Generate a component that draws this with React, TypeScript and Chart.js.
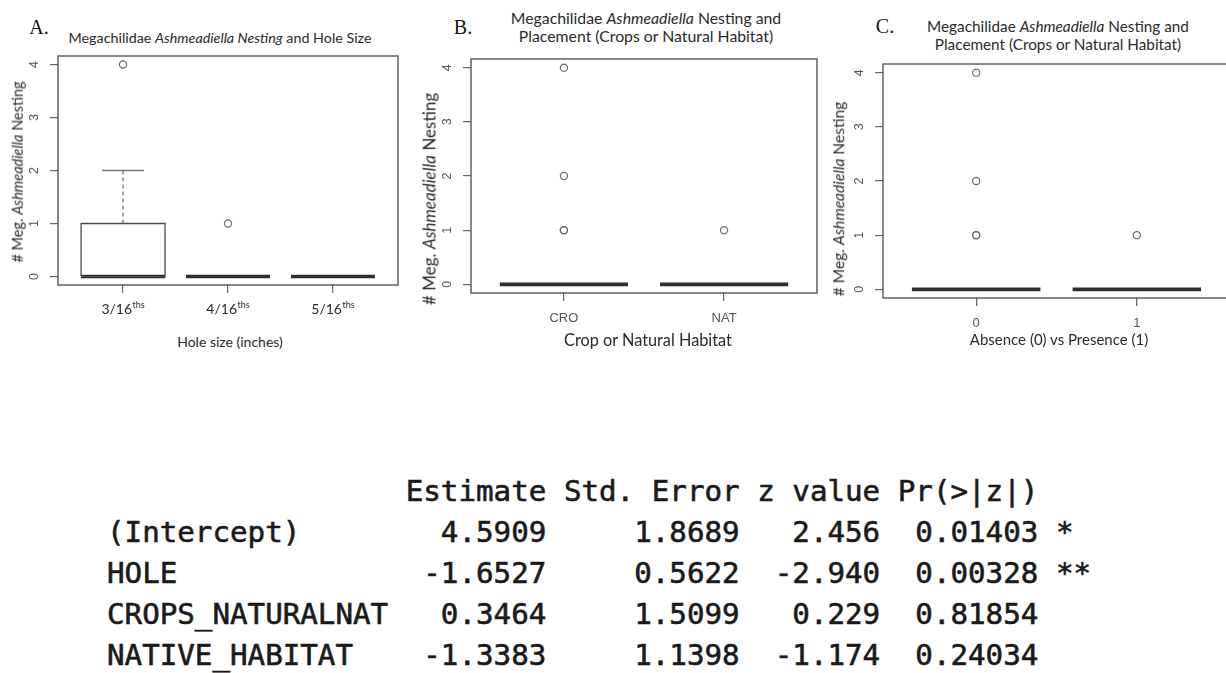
import React, { useEffect, useRef } from 'react';
import { Chart, registerables } from 'chart.js';

Chart.register(...registerables);

// ---------------- Data ----------------
const Y_TICKS = [0, 1, 2, 3, 4];

// Panel A: hole size
const HOLE_CATEGORIES = ['3/16', '4/16', '5/16'];
const HOLE_SUFFIX = 'ths';
const HOLE_Q1 = [0, 0, 0];
const HOLE_MEDIAN = [0, 0, 0];
const HOLE_Q3 = [1, 0, 0];
const HOLE_WHISKER_LOW = [0, 0, 0];
const HOLE_WHISKER_HIGH = [2, 0, 0];
const HOLE_OUTLIERS = [[4], [1], []];

// Panel B: crop vs natural habitat
const HABITAT_CATEGORIES = ['CRO', 'NAT'];
const HABITAT_Q1 = [0, 0];
const HABITAT_MEDIAN = [0, 0];
const HABITAT_Q3 = [0, 0];
const HABITAT_WHISKER_LOW = [0, 0];
const HABITAT_WHISKER_HIGH = [0, 0];
const HABITAT_OUTLIERS = [[1, 1, 2, 4], [1]];

// Panel C: absence vs presence
const PRESENCE_CATEGORIES = ['0', '1'];
const PRESENCE_Q1 = [0, 0];
const PRESENCE_MEDIAN = [0, 0];
const PRESENCE_Q3 = [0, 0];
const PRESENCE_WHISKER_LOW = [0, 0];
const PRESENCE_WHISKER_HIGH = [0, 0];
const PRESENCE_OUTLIERS = [[1, 1, 2, 4], [1]];

// Regression table
const TABLE_HEADERS = ['Estimate', 'Std. Error', 'z value', 'Pr(>|z|)'];
const TERMS = ['(Intercept)', 'HOLE', 'CROPS_NATURALNAT', 'NATIVE_HABITAT'];
const ESTIMATES = [4.5909, -1.6527, 0.3464, -1.3383];
const STD_ERRORS = [1.8689, 0.5622, 1.5099, 1.1398];
const Z_VALUES = [2.456, -2.94, 0.229, -1.174];
const P_VALUES = [0.01403, 0.00328, 0.81854, 0.24034];
const SIGNIF = ['*', '**', '', ''];

// ---------------- Helpers ----------------
type Stats = {
  q1: number[];
  med: number[];
  q3: number[];
  lo: number[];
  hi: number[];
  out: number[][];
};

const BOX_COLOR = '#4a4a4a';
const MED_COLOR = '#2e2e2e';
const PT_COLOR = '#6a6a6a';

function lineDs(data: { x: number; y: number }[], extra: any = {}) {
  return {
    data,
    showLine: true,
    pointRadius: 0,
    borderColor: BOX_COLOR,
    borderWidth: 1.3,
    fill: false,
    tension: 0,
    ...extra,
  };
}

function buildDatasets(s: Stats) {
  const ds: any[] = [];
  const half = 0.4;
  const cap = 0.2;
  s.q1.forEach((q1, i) => {
    const x = i + 1;
    const q3 = s.q3[i];
    if (q3 > q1) {
      ds.push(
        lineDs([
          { x: x - half, y: q1 },
          { x: x + half, y: q1 },
          { x: x + half, y: q3 },
          { x: x - half, y: q3 },
          { x: x - half, y: q1 },
        ])
      );
    }
    if (s.hi[i] > q3) {
      ds.push(
        lineDs(
          [
            { x, y: q3 },
            { x, y: s.hi[i] },
          ],
          { borderDash: [4, 3], borderColor: '#777' }
        )
      );
      ds.push(
        lineDs(
          [
            { x: x - cap, y: s.hi[i] },
            { x: x + cap, y: s.hi[i] },
          ],
          { borderColor: '#777' }
        )
      );
    }
    if (s.lo[i] < q1) {
      ds.push(
        lineDs(
          [
            { x, y: q1 },
            { x, y: s.lo[i] },
          ],
          { borderDash: [4, 3], borderColor: '#777' }
        )
      );
      ds.push(
        lineDs(
          [
            { x: x - cap, y: s.lo[i] },
            { x: x + cap, y: s.lo[i] },
          ],
          { borderColor: '#777' }
        )
      );
    }
    ds.push(
      lineDs(
        [
          { x: x - half, y: s.med[i] },
          { x: x + half, y: s.med[i] },
        ],
        { borderWidth: 3.6, borderColor: MED_COLOR, borderCapStyle: 'butt' }
      )
    );
    if (s.out[i].length) {
      ds.push({
        data: s.out[i].map((v) => ({ x, y: v })),
        showLine: false,
        pointRadius: 3.6,
        pointBorderWidth: 1.2,
        pointBorderColor: PT_COLOR,
        pointBackgroundColor: 'rgba(0,0,0,0)',
        pointStyle: 'circle',
      });
    }
  });
  return ds;
}

type PanelProps = {
  box: { l: number; t: number; r: number; b: number };
  xMin: number;
  xMax: number;
  labels: string[];
  sup?: string;
  xFont: string;
  supFont?: string;
  xColor: string;
  stats: Stats;
};

const PAD_L = 40;
const PAD_T = 10;
const PAD_R = 10;
const PAD_B = 40;

function BoxPanel(p: PanelProps) {
  const ref = useRef<HTMLCanvasElement | null>(null);
  const width = p.box.r - p.box.l + PAD_L + PAD_R;
  const height = p.box.b - p.box.t + PAD_T + PAD_B;

  useEffect(() => {
    if (!ref.current) return;
    const rPlugin = {
      id: 'rstyle',
      afterDraw(chart: any) {
        const { ctx, chartArea: a, scales } = chart;
        ctx.save();
        ctx.strokeStyle = BOX_COLOR;
        ctx.lineWidth = 1.3;
        ctx.strokeRect(a.left, a.top, a.right - a.left, a.bottom - a.top);
        // y tick labels (rotated, R style)
        ctx.font = '12.5px "Liberation Sans", Arial, sans-serif';
        ctx.fillStyle = '#555';
        ctx.textAlign = 'center';
        ctx.textBaseline = 'middle';
        for (const t of scales.y.ticks) {
          const py = scales.y.getPixelForValue(t.value);
          ctx.save();
          ctx.translate(a.left - 23, py);
          ctx.rotate(-Math.PI / 2);
          ctx.fillText(String(t.value), 0, 0);
          ctx.restore();
        }
        // x tick labels
        scales.x.ticks.forEach((t: any, i: number) => {
          const px = scales.x.getPixelForValue(t.value);
          const main = p.labels[i] ?? '';
          const sup = p.sup || '';
          ctx.font = p.xFont;
          const w1 = ctx.measureText(main).width;
          let w2 = 0;
          if (sup) {
            ctx.font = p.supFont || p.xFont;
            w2 = ctx.measureText(sup).width + 0.5;
          }
          const x0 = px - (w1 + w2) / 2;
          const by = a.bottom + 28.5;
          ctx.textAlign = 'left';
          ctx.textBaseline = 'alphabetic';
          ctx.fillStyle = p.xColor;
          ctx.font = p.xFont;
          ctx.fillText(main, x0, by);
          if (sup) {
            ctx.font = p.supFont || p.xFont;
            ctx.fillText(sup, x0 + w1 + 0.5, by - 5.5);
          }
        });
        ctx.restore();
      },
    };

    const chart = new Chart(ref.current, {
      type: 'scatter',
      data: { datasets: buildDatasets(p.stats) },
      options: {
        animation: false,
        responsive: false,
        devicePixelRatio: 1,
        events: [],
        layout: { padding: { top: PAD_T, right: PAD_R, left: 0, bottom: 0 } },
        plugins: { legend: { display: false }, tooltip: { enabled: false } },
        scales: {
          x: {
            type: 'linear',
            min: p.xMin,
            max: p.xMax,
            afterBuildTicks: (scale: any) => {
              scale.ticks = p.labels.map((_, i) => ({ value: i + 1 }));
            },
            afterFit: (scale: any) => {
              scale.height = PAD_B;
            },
            ticks: { display: false },
            border: { display: false },
            grid: {
              drawOnChartArea: false,
              drawTicks: true,
              tickLength: 8,
              color: '#666',
              lineWidth: 1.2,
            },
          },
          y: {
            type: 'linear',
            min: -0.16,
            max: 4.16,
            afterBuildTicks: (scale: any) => {
              scale.ticks = Y_TICKS.map((v) => ({ value: v }));
            },
            afterFit: (scale: any) => {
              scale.width = PAD_L;
            },
            ticks: { display: false },
            border: { display: false },
            grid: {
              drawOnChartArea: false,
              drawTicks: true,
              tickLength: 8,
              color: '#666',
              lineWidth: 1.2,
            },
          },
        },
      } as any,
      plugins: [rPlugin],
    } as any);
    return () => chart.destroy();
  }, []);

  return (
    <canvas
      ref={ref}
      width={width}
      height={height}
      style={{
        position: 'absolute',
        left: p.box.l - PAD_L,
        top: p.box.t - PAD_T,
        width,
        height,
      }}
    />
  );
}

function T(props: {
  x: number;
  y: number;
  size: number;
  family?: string;
  color?: string;
  rotate?: boolean;
  children: React.ReactNode;
}) {
  return (
    <div
      style={{
        position: 'absolute',
        left: props.x,
        top: props.y,
        transform: `translate(-50%, -50%)${props.rotate ? ' rotate(-90deg)' : ''}`,
        fontFamily: props.family || 'Lato, "Open Sans", sans-serif',
        fontSize: props.size,
        lineHeight: 1,
        whiteSpace: 'nowrap',
        color: props.color || '#2a2a2a',
      }}
    >
      {props.children}
    </div>
  );
}

function tableLines(): string[] {
  const header =
    ' '.repeat(16) +
    TABLE_HEADERS.map((h, i) => h.padStart([9, 11, 8, 9][i])).join('');
  const rows = TERMS.map(
    (t, i) =>
      t.padEnd(16) +
      ESTIMATES[i].toFixed(4).padStart(9) +
      STD_ERRORS[i].toFixed(4).padStart(11) +
      Z_VALUES[i].toFixed(3).padStart(8) +
      P_VALUES[i].toFixed(5).padStart(9) +
      (SIGNIF[i] ? ' ' + SIGNIF[i] : '')
  );
  return [header, ...rows];
}

export default function App() {
  const serif = '"Liberation Serif", "Times New Roman", serif';
  const meg = (
    <>
      # Meg. <i>Ashmeadiella</i> Nesting
    </>
  );
  return (
    <div
      style={{
        position: 'absolute',
        left: 0,
        top: 0,
        width: 1226,
        height: 673,
        overflow: 'hidden',
        background: '#fff',
      }}
    >
      {/* Panel A */}
      <T x={39} y={27} size={20} family={serif} color="#111">A.</T>
      <T x={220} y={38} size={14.3}>
        Megachilidae <i>Ashmeadiella Nesting</i> and Hole Size
      </T>
      <BoxPanel
        box={{ l: 58, t: 56, r: 398, b: 285 }}
        xMin={0.38}
        xMax={3.62}
        labels={HOLE_CATEGORIES}
        sup={HOLE_SUFFIX}
        xFont='14px Lato, "Open Sans", sans-serif'
        supFont='9px Lato, "Open Sans", sans-serif'
        xColor="#2a2a2a"
        stats={{
          q1: HOLE_Q1,
          med: HOLE_MEDIAN,
          q3: HOLE_Q3,
          lo: HOLE_WHISKER_LOW,
          hi: HOLE_WHISKER_HIGH,
          out: HOLE_OUTLIERS,
        }}
      />
      <T x={230} y={342} size={14}>Hole size (inches)</T>
      <T x={18} y={172} size={14.5} rotate>{meg}</T>

      {/* Panel B */}
      <T x={463} y={27} size={20} family={serif} color="#111">B.</T>
      <T x={646} y={18} size={15.8}>
        Megachilidae <i>Ashmeadiella</i> Nesting and
      </T>
      <T x={646} y={36} size={15.8}>Placement (Crops or Natural Habitat)</T>
      <BoxPanel
        box={{ l: 471, t: 59, r: 817, b: 293 }}
        xMin={0.42}
        xMax={2.58}
        labels={HABITAT_CATEGORIES}
        xFont='13px "Liberation Sans", Arial, sans-serif'
        xColor="#555"
        stats={{
          q1: HABITAT_Q1,
          med: HABITAT_MEDIAN,
          q3: HABITAT_Q3,
          lo: HABITAT_WHISKER_LOW,
          hi: HABITAT_WHISKER_HIGH,
          out: HABITAT_OUTLIERS,
        }}
      />
      <T x={648} y={340} size={16.3}>Crop or Natural Habitat</T>
      <T x={429} y={199} size={17} rotate>{meg}</T>

      {/* Panel C */}
      <T x={885} y={26} size={20} family={serif} color="#111">C.</T>
      <T x={1058} y={27} size={15.3}>
        Megachilidae <i>Ashmeadiella</i> Nesting and
      </T>
      <T x={1058} y={45} size={15.3}>Placement (Crops or Natural Habitat)</T>
      <BoxPanel
        box={{ l: 883, t: 64, r: 1230, b: 298 }}
        xMin={0.42}
        xMax={2.58}
        labels={PRESENCE_CATEGORIES}
        xFont='13px "Liberation Sans", Arial, sans-serif'
        xColor="#555"
        stats={{
          q1: PRESENCE_Q1,
          med: PRESENCE_MEDIAN,
          q3: PRESENCE_Q3,
          lo: PRESENCE_WHISKER_LOW,
          hi: PRESENCE_WHISKER_HIGH,
          out: PRESENCE_OUTLIERS,
        }}
      />
      <T x={1059} y={339} size={15}>Absence (0) vs Presence (1)</T>
      <T x={839} y={199} size={15.6} rotate>{meg}</T>

      {/* Regression table */}
      <pre
        style={{
          position: 'absolute',
          left: 107,
          top: 471,
          margin: 0,
          fontFamily: '"DejaVu Sans Mono", monospace',
          fontSize: 29.2,
          lineHeight: '41px',
          color: '#1a1a1a',
          WebkitTextStroke: '0.6px #1a1a1a',
        }}
      >
        {tableLines().join('\n')}
      </pre>
    </div>
  );
}
